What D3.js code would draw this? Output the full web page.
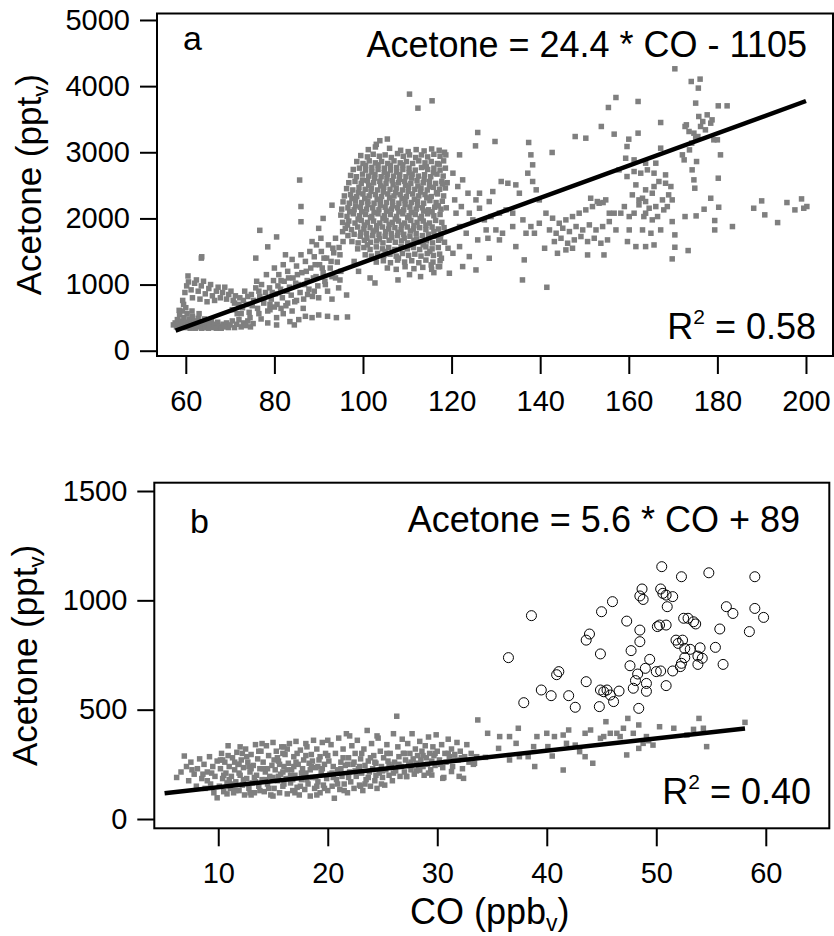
<!DOCTYPE html>
<html>
<head>
<meta charset="utf-8">
<script src="https://cdn.jsdelivr.net/npm/d3@7"></script>
<style>body{margin:0;background:#fff}</style>
</head>
<body>
<script>
// ---- panel a : CO (ppbv) vs acetone (pptv) ----
const coTicksA = [60, 80, 100, 120, 140, 160, 180, 200];
const acTicksA = [0, 1000, 2000, 3000, 4000, 5000];

const aLow = [[57.2,390],[57.6,420],[57.9,360],[58.1,470],[58.3,400],[58.6,540],[58.8,360],[59.0,450],[59.2,600],[59.4,390],[59.6,500],[59.9,350],[60.1,430],[60.3,560],[60.5,380],[60.8,480],[61.0,340],[61.2,420],[61.5,520],[61.7,370],[62.0,450],[62.2,340],[62.5,400],[62.8,490],[63.0,360],[63.3,430],[63.6,340],[63.9,410],[64.2,480],[64.5,350],[64.8,420],[65.1,340],[65.4,390],[65.8,460],[66.1,350],[66.5,400],[66.9,340],[67.2,430],[67.6,370],[68.0,340],[68.4,400],[68.8,360],[69.2,420],[69.6,350],[70.0,390],[70.5,450],[71.0,350],[71.5,400],[72.0,470],[72.5,360],[73.0,420],[73.5,380],[74.0,450],[74.6,360],[75.2,410],[61.4,600],[60.0,650],[59.5,700],[58.5,610],[63.0,560]];
const aLoop = [[59.3,760],[59.8,880],[60.2,980],[60.6,1040],[61.2,920],[61.5,800],[62.0,1020],[62.4,1070],[62.8,900],[63.2,780],[63.5,980],[64.0,1050],[64.4,860],[64.8,740],[65.2,940],[65.6,1000],[66.0,830],[66.5,760],[66.9,900],[67.3,960],[67.8,800],[68.3,880],[68.8,960],[69.2,780],[69.7,850],[70.2,900],[70.7,760],[71.2,830],[72.0,700],[63.5,1400],[60.5,1130]];
const aBand = [[70.5,620],[71.0,720],[71.6,560],[72.2,800],[72.8,650],[73.3,900],[73.8,700],[74.3,580],[74.8,850],[75.3,760],[75.8,950],[76.2,640],[76.7,820],[77.1,1000],[77.6,720],[78.0,880],[78.5,600],[78.9,950],[79.3,780],[79.8,1060],[80.2,860],[80.6,700],[81.0,1150],[81.4,930],[81.8,800],[82.2,1050],[82.6,680],[83.0,1200],[83.4,960],[83.8,840],[84.2,1100],[84.6,740],[85.0,1280],[85.4,1000],[85.8,880],[86.2,1180],[86.6,780],[87.0,1350],[87.4,1060],[87.8,930],[88.2,1250],[88.6,820],[89.0,1420],[89.4,1120],[89.8,980],[90.2,1300],[90.6,1500],[91.0,1180],[91.4,1050],[91.8,1400],[92.2,1600],[92.6,1250],[93.0,1120],[93.4,1480],[93.8,1700],[94.2,1340],[94.6,1560],[95.0,1200],[95.4,1800],[76.0,1050],[78.2,1150],[80.0,1250],[82.0,1300],[84.0,1380],[86.0,1450],[88.0,1500],[89.5,1600],[90.5,1700],[77.0,480],[78.5,420],[80.5,500],[82.0,560],[83.5,440],[85.5,470],[87.0,520],[88.5,500],[90.0,540],[92.0,520],[94.0,500],[96.5,510],[80.0,660],[84.0,600],[86.5,640],[90.0,800],[92.0,900],[94.5,950],[93.0,780],[80.5,389],[84.5,390],
[73.0,760],[74.0,820],[75.0,680],[76.5,900],[77.5,780],[79.0,700],[79.5,880],[80.8,980],[81.5,1060],[82.8,900],[83.2,1100],[84.8,1020],[85.2,1150],[86.8,1000],[87.2,1200],[88.8,1100],[89.2,1300],[90.8,1250],[91.2,1400],[92.8,1350],[93.2,1550],[94.8,1450],[95.5,1650],[72.5,560],[74.5,500],[76.5,560],[79.0,620],[81.5,640],[83.0,720],[85.0,760],[87.5,850],[89.0,900],[91.5,1000],[93.8,1100]];
const aScatter = [[63.6,1420],[76.7,1820],[85.7,2580],[86.0,2180],[86.0,1950],[80.5,1720],[78.5,1570],[75.8,1400],[82.5,1450],[88.5,1650],[91.0,2000],[93.0,2200],[90.0,1850],[101.6,1100],[102.7,1024],[96.3,842],[94.8,1069],[107.9,1070],[110.5,1150],[113.0,1120],[116.0,1180],[99.0,1200],[98.0,1350],[103.8,3175],[103.0,3120],[105.5,3200]];
const aMain = [[101.2,3040],[102.8,3080],[106.0,3060],[108.5,3030],[110.2,3010],[112.0,3040],[113.8,3020],[115.5,3050],[117.2,3030],[118.4,3000],
[99.5,2950],[101.0,2930],[102.3,2970],[103.7,2940],[105.0,2960],[106.4,2920],[107.8,2980],[109.1,2940],[110.5,2960],[111.9,2920],[113.2,2960],[114.6,2930],[116.0,2970],[117.4,2940],[118.7,2960],
[98.6,2860],[100.0,2830],[101.4,2870],[102.8,2840],[104.2,2860],[105.6,2830],[107.0,2870],[108.4,2840],[109.8,2860],[111.2,2830],[112.6,2870],[114.0,2840],[115.4,2860],[116.8,2830],[118.2,2870],
[97.8,2740],[99.2,2760],[100.6,2730],[102.0,2770],[103.4,2740],[104.8,2760],[106.2,2730],[107.6,2770],[109.0,2740],[110.4,2760],[111.8,2730],[113.2,2770],[114.6,2740],[116.0,2760],[117.4,2730],[118.6,2760],
[97.2,2650],[98.5,2630],[99.9,2670],[101.3,2640],[102.7,2660],[104.1,2630],[105.5,2670],[106.9,2640],[108.3,2660],[109.7,2630],[111.1,2670],[112.5,2640],[113.9,2660],[115.3,2630],[116.7,2670],[118.1,2640],
[96.8,2540],[98.2,2560],[99.6,2530],[101.0,2570],[102.4,2540],[103.8,2560],[105.2,2530],[106.6,2570],[108.0,2540],[109.4,2560],[110.8,2530],[112.2,2570],[113.6,2540],[115.0,2560],[116.4,2530],[117.8,2560],[119.0,2540],
[96.3,2450],[97.7,2430],[99.1,2470],[100.5,2440],[101.9,2460],[103.3,2430],[104.7,2470],[106.1,2440],[107.5,2460],[108.9,2430],[110.3,2470],[111.7,2440],[113.1,2460],[114.5,2430],[115.9,2470],[117.3,2440],[118.6,2460],
[95.8,2340],[97.2,2360],[98.6,2330],[100.0,2370],[101.4,2340],[102.8,2360],[104.2,2330],[105.6,2370],[107.0,2340],[108.4,2360],[109.8,2330],[111.2,2370],[112.6,2340],[114.0,2360],[115.4,2330],[116.8,2370],[118.2,2340],
[95.5,2250],[96.9,2230],[98.3,2270],[99.7,2240],[101.1,2260],[102.5,2230],[103.9,2270],[105.3,2240],[106.7,2260],[108.1,2230],[109.5,2270],[110.9,2240],[112.3,2260],[113.7,2230],[115.1,2270],[116.5,2240],[117.9,2260],
[95.2,2140],[96.6,2160],[98.0,2130],[99.4,2170],[100.8,2140],[102.2,2160],[103.6,2130],[105.0,2170],[106.4,2140],[107.8,2160],[109.2,2130],[110.6,2170],[112.0,2140],[113.4,2160],[114.8,2130],[116.2,2170],[117.6,2140],[118.8,2160],
[95.0,2050],[96.4,2030],[97.8,2070],[99.2,2040],[100.6,2060],[102.0,2030],[103.4,2070],[104.8,2040],[106.2,2060],[107.6,2030],[109.0,2070],[110.4,2040],[111.8,2060],[113.2,2030],[114.6,2070],[116.0,2040],[117.4,2060],
[95.4,1940],[96.8,1960],[98.2,1930],[99.6,1970],[101.0,1940],[102.4,1960],[103.8,1930],[105.2,1970],[106.6,1940],[108.0,1960],[109.4,1930],[110.8,1970],[112.2,1940],[113.6,1960],[115.0,1930],[116.4,1970],[117.8,1940],
[96.0,1850],[97.4,1830],[98.8,1870],[100.2,1840],[101.6,1860],[103.0,1830],[104.4,1870],[105.8,1840],[107.2,1860],[108.6,1830],[110.0,1870],[111.4,1840],[112.8,1860],[114.2,1830],[115.6,1870],[117.0,1840],[118.3,1860],
[96.6,1740],[98.0,1760],[99.4,1730],[100.8,1770],[102.2,1740],[103.6,1760],[105.0,1730],[106.4,1770],[107.8,1740],[109.2,1760],[110.6,1730],[112.0,1770],[113.4,1740],[114.8,1760],[116.2,1730],[117.6,1770],
[97.5,1650],[98.9,1630],[100.3,1670],[101.7,1640],[103.1,1660],[104.5,1630],[105.9,1670],[107.3,1640],[108.7,1660],[110.1,1630],[111.5,1670],[112.9,1640],[114.3,1660],[115.7,1630],[117.1,1670],[118.4,1640],
[98.8,1540],[100.2,1560],[101.6,1530],[103.0,1570],[104.4,1540],[105.8,1560],[107.2,1530],[108.6,1570],[110.0,1540],[111.4,1560],[112.8,1530],[114.2,1570],[115.6,1540],[117.0,1560],
[100.5,1450],[101.9,1430],[103.3,1470],[104.7,1440],[106.1,1460],[107.5,1430],[108.9,1470],[110.3,1440],[111.7,1460],[113.1,1430],[114.5,1470],[115.9,1440],[117.3,1460],
[103.0,1340],[104.6,1360],[106.2,1330],[107.8,1370],[109.4,1340],[111.0,1360],[112.6,1330],[114.2,1370],[115.8,1340],[117.4,1360],
[105.5,1250],[107.5,1230],[109.5,1270],[111.5,1240],[113.5,1260],[115.5,1230],[117.0,1270]];
const aCore = [[99.9,2580],[101.3,2500],[102.6,2610],[104.0,2490],[105.4,2600],[106.8,2510],[108.2,2590],[109.6,2500],[111.0,2610],[112.4,2490],[113.8,2590],
[99.0,2390],[100.4,2300],[101.8,2410],[103.2,2290],[104.6,2400],[106.0,2310],[107.4,2390],[108.8,2300],[110.2,2410],[111.6,2290],[113.0,2400],[114.4,2310],
[98.3,2190],[99.7,2100],[101.1,2210],[102.5,2090],[103.9,2200],[105.3,2110],[106.7,2190],[108.1,2100],[109.5,2210],[110.9,2090],[112.3,2200],[113.7,2110],
[98.9,1990],[100.3,1900],[101.7,2010],[103.1,1890],[104.5,2000],[105.9,1910],[107.3,1990],[108.7,1900],[110.1,2010],[111.5,1890],[112.9,2000],
[99.5,1790],[100.9,1700],[102.3,1810],[103.7,1690],[105.1,1800],[106.5,1710],[107.9,1790],[109.3,1700],[110.7,1810],[112.1,1690],
[100.6,2800],[102.0,2700],[103.4,2810],[104.8,2690],[106.2,2800],[107.6,2700],[109.0,2810],[110.4,2690],
[114.3,2780],[115.9,2690],[117.2,2820],[115.0,2480],[116.6,2390],[117.9,2520],[115.6,2100],[117.0,2190],[114.2,1900],[116.0,1800],[117.5,1700],[113.6,1600],[115.1,1500],[105.0,1500],[108.0,1400],[110.5,1600],[101.0,1600],[97.0,2100],[96.5,1900],[97.5,2300]];
const aTail = [[110.5,3879],[112.4,3667],[115.6,3778],[121.8,2961],[125.9,3299],[125.4,3097],[129.8,3163],[137.4,3148],[137.9,2961],[138.3,2810],[142.7,2997],[147.9,3238],[150.3,3213],[153.8,3390],[155.4,3677],[157.1,3828],[162.1,3768],[156.7,3274],[160.0,3198],[162.1,3289],[159.6,3087],[167.2,3450],[170.4,4262],[174.1,4070],[176.1,4106],[175.7,3970],[175.1,3743],[180.2,3702],[182.2,3702],[173.0,3415],
[173.6,3314],[174.7,3289],[175.8,3541],[176.7,3465],[177.7,3566],[178.5,3440],[178.8,3490],[176.2,3390],[175.1,3213],[174.2,3138],[177.3,3339],[175.6,3238],[172.7,3390],[179.2,3188],
[180.0,3188],[180.7,2961],[180.2,2608],[178.5,2305],[180.3,2169],[179.4,1968],[179.4,1826],[183.4,1877],[188.2,2154],[190.0,2265],[190.7,2054],[193.6,1937],[195.7,2240],[199.0,2295],[197.5,2129],[199.5,2154],[200.2,2180],
[172.1,2961],[172.5,2885],[173.7,3036],[175.3,2860],[174.3,2734],[174.7,2583],[174.9,2457],[169.8,1952],[170.4,1751],[169.8,1388],[173.4,1514],[170.4,1564],[172.7,2028],[175.2,2038],[177.0,2139],
[161.6,2507],[163.8,2432],[165.3,2381],[166.8,2558],[168.3,2532],[169.5,2482],[169.8,2280],[167.9,2129],[166.1,2179],[163.8,2255],[162.3,2280],[161.2,2079],[163.8,2079],[165.3,1978],[163.1,1826],[165.0,1776],[167.2,1826],[163.8,1574],[165.7,1599],[160.1,1826],[159.7,1650],[161.6,1574],[163.4,2028],[166.5,2028],[168.7,2179],[162.3,2205],[164.6,2154],[167.6,2280],[163.1,2305],[169.0,2356],[160.8,2356],[165.7,2482],[159.0,2179],[160.1,2028],
[157.8,2734],[159.6,2633],[161.2,2709],[162.7,2684],[164.2,2734],[161.2,2885],[163.8,2835],[166.1,2835],[167.2,3062],[159.3,2910],[168.3,2658],[165.7,2684],
[141.3,2079],[142.8,2003],[144.3,1927],[145.8,1978],[147.3,2028],[148.8,2079],[150.3,2129],[151.8,2179],[153.3,2230],[154.8,2280],[151.4,2305],[152.9,2255],[154.2,2240],
[142.1,1826],[143.6,1776],[145.1,1852],[146.6,1801],[148.1,1877],[149.6,1826],[151.1,1902],[152.6,1826],[154.1,1877],[155.6,1952],[156.7,2079],
[143.2,1650],[144.7,1700],[146.2,1625],[147.7,1675],[149.2,1726],[150.7,1650],[152.2,1700],[153.7,1625],[155.2,1675],
[141.0,1549],[143.9,1473],[147.3,1549],[150.7,1448],[154.4,1448],[145.8,1524],[155.6,2079],[157.1,1826],[158.2,2079],
[120.3,2684],[121.4,2482],[122.5,2583],[120.7,2280],[122.2,2179],[123.7,2381],[124.0,2079],[125.5,2280],[126.3,2154],[127.4,1978],[128.9,2028],[128.5,2255],[129.3,2406],[126.3,2381],[130.8,2079],[132.3,2129],[133.8,2079],[135.3,2381],[137.2,2684],[138.3,2558],[139.1,2432],[139.8,2280],[134.5,2507],[131.2,2558],[132.7,2532],
[121.0,2079],[121.8,1877],[123.3,1776],[124.8,1978],[127.8,1826],[130.0,1826],[131.5,1776],[133.8,1877],[136.1,1978],[137.9,1877],[139.8,1927],[138.7,1776],[136.8,1776],[125.9,1675],[128.2,1700],[130.8,1675],[134.5,1574],[121.8,1574],[120.3,1473],[124.0,1423],[128.5,1398],[136.4,1373],[122.5,1272],[125.5,1221],[119.5,1171],[117.3,1272],[115.4,1297],[117.7,1398],[119.2,1549],[136.0,1070],[141.5,959]];

// ---- panel b : CO (ppbv) vs acetone (pptv) ----
const coTicksB = [10, 20, 30, 40, 50, 60];
const acTicksB = [0, 500, 1000, 1500];

const bBand = [[6.2,190],[6.6,215],[6.9,288],[7.1,240],[7.3,175],[7.5,260],[7.8,205],[8.0,150],[8.1,230],[8.3,275],[8.5,185],[8.7,250],[8.8,140],[9.0,215],[9.2,285],[9.3,160],[9.5,240],[9.6,120],[9.7,195],[9.9,265],[9.9,97],[9.4,210],[8.6,205],[7.6,225],[9.0,175],
[10.1,150],[10.2,230],[10.3,300],[10.4,185],[10.5,125],[10.6,260],[10.7,210],[10.8,165],[10.9,335],[11.0,240],[11.1,140],[11.2,195],[11.3,280],[11.4,120],[11.5,225],[11.6,170],[11.7,305],[11.8,250],[11.9,130],[12.0,200],[12.1,270],[12.2,155],[12.3,235],[12.4,110],[12.5,320],[12.6,185],[12.7,260],[12.8,140],[12.9,215],[13.0,295],[13.1,165],[13.2,245],[13.3,120],[13.4,340],[13.5,200],[13.6,275],[13.7,150],[13.8,230],[13.9,310],[14.0,180],[10.4,270],[11.0,180],[11.6,130],[12.2,300],[12.8,240],[13.4,170],[13.8,130],[10.8,115],[11.9,250],[12.9,120],
[14.1,260],[14.2,125],[14.3,215],[14.4,335],[14.5,160],[14.6,290],[14.7,195],[14.8,110],[14.9,245],[15.0,350],[15.1,140],[15.2,225],[15.3,310],[15.4,175],[15.5,265],[15.6,120],[15.7,205],[15.8,330],[15.9,150],[16.0,240],[16.1,295],[16.2,185],[16.3,115],[16.4,255],[16.5,345],[16.6,165],[16.7,225],[16.8,130],[16.9,285],[17.0,200],[17.1,355],[17.2,145],[17.3,250],[17.4,110],[17.5,315],[17.6,180],[17.7,230],[17.8,270],[17.9,135],[18.0,210],[18.1,330],[18.2,160],[18.3,255],[18.4,105],[18.5,295],[18.6,190],[18.7,360],[18.8,140],[18.9,235],[19.0,320],[19.1,170],[19.2,270],[19.3,120],[19.4,215],[19.5,350],[19.6,155],[19.7,250],[19.8,300],[19.9,185],[20.0,130],
[14.5,230],[15.0,190],[15.4,280],[15.9,215],[16.3,320],[16.6,200],[17.1,260],[17.5,150],[18.0,290],[18.4,225],[18.9,190],[19.3,285],[19.7,140],[14.3,180],[16.0,160],[17.8,200],[19.1,240],[15.6,250],[16.9,240],[18.6,265],
[20.1,265],[20.2,205],[20.3,340],[20.4,150],[20.5,240],[20.6,95],[20.7,300],[20.8,180],[20.9,225],[21.0,370],[21.1,135],[21.2,260],[21.3,195],[21.4,320],[21.5,160],[21.6,245],[21.7,390],[21.8,120],[21.9,280],[22.0,215],[22.1,170],[22.2,335],[22.3,250],[22.4,140],[22.5,300],[22.6,195],[22.7,360],[22.8,230],[22.9,155],[23.0,275],[23.1,210],[23.2,130],[23.3,320],[23.4,245],[23.5,180],[23.6,405],[23.7,265],[23.8,215],[23.9,150],[24.0,345],[24.1,230],[24.2,290],[24.3,175],[24.4,255],[24.5,140],[24.6,370],[24.7,210],[24.8,310],[24.9,240],[25.0,190],[25.1,280],[25.2,155],[25.3,225],[25.4,340],[25.5,265],[25.6,200],[25.7,300],[25.8,240],[25.9,175],[26.0,390],
[20.5,190],[21.2,230],[21.8,250],[22.5,220],[23.1,300],[23.7,190],[24.3,260],[25.0,220],[25.6,250],[26.3,470],
[26.1,260],[26.2,220],[26.4,330],[26.5,285],[26.6,195],[26.7,240],[26.8,365],[26.9,300],[27.0,215],[27.1,270],[27.2,195],[27.3,345],[27.4,250],[27.5,300],[27.6,225],[27.7,390],[27.8,275],[27.9,205],[28.0,320],[28.1,255],[28.2,290],[28.3,225],[28.4,355],[28.5,270],[28.6,310],[28.7,240],[28.8,200],[28.9,335],[29.0,280],[29.1,250],[29.2,375],[29.3,300],[29.4,225],[29.5,265],[29.6,330],[29.7,290],[29.8,245],[29.9,385],[30.0,310],[30.2,270],[30.4,340],[30.5,235],[30.7,300],[30.8,260],[31.0,365],[31.1,285],[31.3,320],[31.4,240],[31.6,295],[31.8,350],[31.9,270],[32.1,310],[32.3,230],[32.5,285],[32.7,340],[32.9,260],[33.1,300],[33.3,250],[32.0,195],[30.6,190]];
const bFill = [[10.2,270],[10.5,200],[10.9,290],[11.2,160],[11.5,260],[11.9,210],[12.3,180],[12.6,285],[13.0,230],[13.3,190],[13.7,310],[14.1,230],[14.6,140],[15.1,270],[15.5,195],[15.9,300],[16.3,225],[16.8,180],[17.2,300],[17.6,210],[18.1,180],[18.5,240],[19.0,150],[19.5,230],[20.0,290],[20.4,210],[20.9,160],[21.4,280],[21.9,190],[22.4,260],[22.9,240],[23.4,160],[23.9,280],[24.4,200],[24.9,160],[25.4,300],[26.0,210],[26.5,250],[27.0,300],[27.6,260],[28.1,220],[28.7,290],[29.2,210],[29.8,300],[30.3,250],[31.0,300],[31.5,270],[32.2,280],[12.0,330],[14.0,345],[16.0,330],[18.0,345],[20.0,360],[22.0,380],[24.5,380],[17.0,120],[19.0,110],[21.5,130],[23.0,150],[15.0,105],[13.0,110]];
const bSparse = [[33.7,453],[34.6,392],[35.7,377],[36.6,377],[37.4,415],[37.2,346],[36.6,270],[38.9,240],[39.1,377],[40.0,392],[40.7,377],[41.5,384],[42.0,407],[41.5,224],[40.5,288],[43.5,392],[44.0,407],[44.2,255],[43.5,285],[43.0,308],[45.4,445],[45.2,377],[45.8,392],[46.4,392],[47.0,415],[47.4,460],[47.3,293],[47.9,392],[48.4,430],[49.1,377],[48.4,323],[49.7,338],[50.3,422],[51.6,415],[52.8,384],[53.4,410],[53.9,460],[54.3,415],[54.6,331],[58.1,442],[48.8,346],[49.3,358],[46.7,377],[44.9,369],[42.6,338],[41.8,346],[40.1,331],[38.8,331],[38.3,285],[37.5,285],[35.6,323],[34.4,282],[33.6,285],[33.4,255],[32.4,186],[31.3,217],[30.5,186],[29.5,201],[27.2,194],[28.4,224]];
const bOpen = [[50.5,1154],[52.3,1108],[54.8,1126],[59.0,1108],[38.6,930],[46.0,994],[45.0,948],[48.7,1052],[48.5,1020],[48.8,1004],[50.4,1052],[50.6,1032],[50.9,1024],[51.5,1017],[51.0,971],[47.3,905],[48.5,864],[50.1,880],[50.3,887],[50.9,887],[52.5,918],[52.9,918],[53.4,902],[53.6,892],[56.4,971],[57.0,940],[59.0,963],[59.8,922],[55.8,869],[58.5,857],[43.9,846],[43.6,818],[48.5,811],[47.7,770],[44.9,755],[51.8,818],[52.4,818],[52.0,803],[52.6,780],[53.1,776],[54.0,783],[53.8,745],[54.2,735],[55.4,785],[52.6,738],[36.5,738],[47.6,701],[49.4,730],[49.0,689],[50.0,674],[50.4,677],[51.5,677],[52.2,697],[52.3,712],[53.8,707],[56.1,707],[40.9,660],[41.1,674],[48.3,663],[48.1,633],[49.1,620],[43.6,628],[47.9,598],[49.1,584],[50.9,610],[39.5,590],[40.4,564],[42.0,564],[44.9,590],[45.5,590],[45.8,567],[46.6,585],[46.1,537],[37.9,532],[42.6,511],[44.8,514],[48.4,506],[45.2,582]];

// fits printed on the chart
const fitA = {slope: 24.4, intercept: -1105, from: 57.7, to: 200};
const fitB = {slope: 5.6, intercept: 89, from: 5.1, to: 58.1};

const font = "'Liberation Sans', Arial, Helvetica, sans-serif";
const grey = '#7f7f7f';
const sq = 5.5;

let svg = d3.create('svg')
  .attr('width', 834)
  .attr('height', 936)
  .style('display', 'block');

let panels = [
  {
    box: {left: 157, right: 833, top: 13.5, bottom: 356},
    xDomain: [53.5, 206.1], yDomain: [-80, 5098],
    xTicks: coTicksA, yTicks: acTicksA,
    squares: [...aLow, ...aLoop, ...aBand, ...aScatter, ...aMain, ...aCore, ...aTail],
    open: [],
    fit: fitA,
    letter: {text: 'a', x: 183, y: 50},
    eq: {text: 'Acetone = 24.4 * CO - 1105', x: 807, y: 57},
    r2: {text: '0.58', x: 816, y: 339},
    ylab: {x: 41}
  },
  {
    box: {left: 154.3, right: 829.3, top: 482.7, bottom: 828.3},
    xDomain: [4.16, 65.8], yDomain: [-42.5, 1538],
    xTicks: coTicksB, yTicks: acTicksB,
    squares: [...bBand, ...bFill, ...bSparse],
    open: bOpen,
    fit: fitB,
    letter: {text: 'b', x: 190, y: 533},
    eq: {text: 'Acetone = 5.6 * CO + 89', x: 800, y: 532},
    r2: {text: '0.40', x: 811, y: 804},
    ylab: {x: 37}
  }
];

panels.forEach(p => {
  let b = p.box;
  let x = d3.scaleLinear(p.xDomain, [b.left, b.right]);
  let y = d3.scaleLinear(p.yDomain, [b.bottom, b.top]);
  let g = svg.append('g');

  g.append('g')
    .selectAll('rect')
    .data(p.squares)
    .join('rect')
    .attr('x', d => x(d[0]) - sq / 2)
    .attr('y', d => y(d[1]) - sq / 2)
    .attr('width', sq)
    .attr('height', sq)
    .attr('fill', grey);

  g.append('line')
    .attr('x1', x(p.fit.from))
    .attr('y1', y(p.fit.slope * p.fit.from + p.fit.intercept))
    .attr('x2', x(p.fit.to))
    .attr('y2', y(p.fit.slope * p.fit.to + p.fit.intercept))
    .attr('stroke', '#000')
    .attr('stroke-width', 4.5);

  g.append('g')
    .selectAll('circle')
    .data(p.open)
    .join('circle')
    .attr('cx', d => x(d[0]))
    .attr('cy', d => y(d[1]))
    .attr('r', 5)
    .attr('fill', 'none')
    .attr('stroke', '#000')
    .attr('stroke-width', 1);

  let gx = g.append('g')
    .attr('transform', `translate(0,${b.bottom})`)
    .call(d3.axisBottom(x).tickValues(p.xTicks).tickFormat(d3.format('d'))
      .tickSize(18).tickPadding(16).tickSizeOuter(0))
    .attr('font-family', font)
    .attr('font-size', 29);
  gx.select('.domain').remove();
  gx.selectAll('line').attr('stroke-width', 2);

  let gy = g.append('g')
    .attr('transform', `translate(${b.left},0)`)
    .call(d3.axisLeft(y).tickValues(p.yTicks).tickFormat(d3.format('d'))
      .tickSize(17).tickPadding(10).tickSizeOuter(0))
    .attr('font-family', font)
    .attr('font-size', 29);
  gy.select('.domain').remove();
  gy.selectAll('line').attr('stroke-width', 2);

  g.append('rect')
    .attr('x', b.left)
    .attr('y', b.top)
    .attr('width', b.right - b.left)
    .attr('height', b.bottom - b.top)
    .attr('fill', 'none')
    .attr('stroke', '#000')
    .attr('stroke-width', 2);

  g.append('text')
    .text(p.letter.text)
    .attr('x', p.letter.x)
    .attr('y', p.letter.y)
    .attr('font-family', font)
    .attr('font-size', 34);

  g.append('text')
    .text(p.eq.text)
    .attr('x', p.eq.x)
    .attr('y', p.eq.y)
    .attr('text-anchor', 'end')
    .attr('font-family', font)
    .attr('font-size', 36);

  let r2 = g.append('text')
    .attr('x', p.r2.x)
    .attr('y', p.r2.y)
    .attr('text-anchor', 'end')
    .attr('font-family', font)
    .attr('font-size', 36);
  r2.append('tspan').text('R');
  r2.append('tspan').text('2').attr('font-size', 21).attr('dy', -15);
  r2.append('tspan').text(' = ' + p.r2.text).attr('dy', 15);

  let yl = g.append('text')
    .attr('transform', `translate(${p.ylab.x},${(b.top + b.bottom) / 2}) rotate(-90)`)
    .attr('text-anchor', 'middle')
    .attr('font-family', font)
    .attr('font-size', 35);
  yl.append('tspan').text('Acetone (ppt');
  yl.append('tspan').text('v').attr('font-size', 22).attr('dy', 7);
  yl.append('tspan').text(')').attr('dy', -7);
});

let xl = svg.append('text')
  .attr('x', 410)
  .attr('y', 924)
  .attr('font-family', font)
  .attr('font-size', 36);
xl.append('tspan').text('CO (ppb');
xl.append('tspan').text('v').attr('font-size', 23).attr('dy', 7);
xl.append('tspan').text(')').attr('dy', -7);

document.body.prepend(svg.node());
</script>
</body>
</html>
